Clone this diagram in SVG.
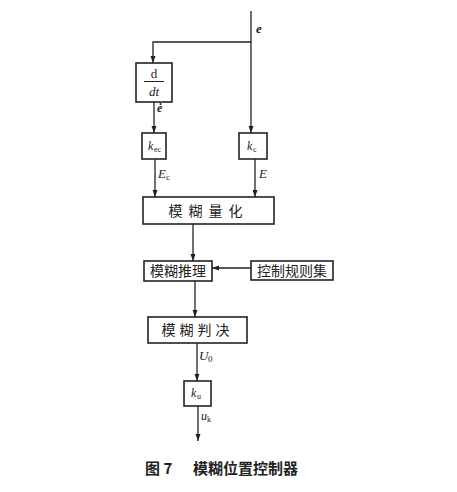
<svg xmlns="http://www.w3.org/2000/svg" width="457" height="492" viewBox="0 0 457 492">
<defs>
<marker id="ah" markerWidth="8" markerHeight="8" refX="7" refY="4" orient="auto" markerUnits="userSpaceOnUse">
<path d="M0,1.5 L7,4 L0,6.5 Z" fill="#222"/>
</marker>
</defs>
<style>
.box{fill:#fff;stroke:#222;stroke-width:1.6}
.ln{fill:none;stroke:#222;stroke-width:1.3}
.cn{font-family:"Noto Sans CJK SC","Noto Sans CJK JP",sans-serif;fill:#222}
.it{font-family:"Liberation Serif",serif;font-style:italic;fill:#222}
.rm{font-family:"Liberation Serif",serif;fill:#222}
</style>
<rect width="457" height="492" fill="#fff"/>
<g id="connectors">
<path class="ln" d="M251,11 V133" marker-end="url(#ah)"/>
<path class="ln" d="M251,42 H153 V63" marker-end="url(#ah)"/>
<path class="ln" d="M154,102 V133" marker-end="url(#ah)"/>
<path class="ln" d="M155,159 V197" marker-end="url(#ah)"/>
<path class="ln" d="M255,159 V197" marker-end="url(#ah)"/>
<path class="ln" d="M193,224 V261" marker-end="url(#ah)"/>
<path class="ln" d="M251,268 H212" marker-end="url(#ah)"/>
<path class="ln" d="M195,281 V317" marker-end="url(#ah)"/>
<path class="ln" d="M197,343 V381" marker-end="url(#ah)"/>
<path class="ln" d="M198,406 V441" marker-end="url(#ah)"/>
</g>
<g id="labels">
<text class="it" x="256" y="33" font-size="13" font-weight="bold">e</text>
<text class="it" x="157" y="112" font-size="12" font-weight="bold">ė</text>
<text class="it" x="158" y="178" font-size="13">E</text>
<text class="rm" x="166" y="180" font-size="9">c</text>
<text class="it" x="259" y="178" font-size="13">E</text>
<text class="it" x="199" y="360" font-size="13">U</text>
<text class="rm" x="208" y="362" font-size="9">0</text>
<text class="it" x="201" y="420" font-size="12">u</text>
<text class="rm" x="207" y="422" font-size="8">k</text>
</g>
<g id="ddt">
<rect class="box" x="136" y="63" width="36" height="39"/>
<text class="rm" x="154" y="78" font-size="13" text-anchor="middle">d</text>
<line x1="144" y1="81.5" x2="164" y2="81.5" stroke="#222" stroke-width="1"/>
<text class="it" x="154" y="96" font-size="13" text-anchor="middle">dt</text>
</g>
<g id="kec">
<rect class="box" x="142" y="133" width="24" height="26"/>
<text class="it" x="148" y="150" font-size="12">k</text>
<text class="rm" x="154" y="152" font-size="8">ec</text>
</g>
<g id="kc">
<rect class="box" x="239" y="133" width="28" height="26"/>
<text class="it" x="247" y="150" font-size="12">k</text>
<text class="rm" x="253" y="152" font-size="8">c</text>
</g>
<g id="quant">
<rect class="box" x="143" y="197" width="131" height="27"/>
<text class="cn" x="208.5" y="216" font-size="14" text-anchor="middle" letter-spacing="6">模糊量化</text>
</g>
<g id="infer">
<rect class="box" x="144" y="261" width="68" height="20"/>
<text class="cn" x="178" y="276" font-size="14" text-anchor="middle">模糊推理</text>
</g>
<g id="rules">
<rect class="box" x="251" y="261" width="82" height="19"/>
<text class="cn" x="292" y="275.5" font-size="14" text-anchor="middle">控制规则集</text>
</g>
<g id="decide">
<rect class="box" x="148" y="317" width="99" height="26"/>
<text class="cn" x="197.5" y="335" font-size="14" text-anchor="middle" letter-spacing="4">模糊判决</text>
</g>
<g id="ku">
<rect class="box" x="184" y="381" width="27" height="25"/>
<text class="it" x="191" y="397" font-size="12">k</text>
<text class="rm" x="197" y="399" font-size="8">u</text>
</g>
<g id="caption">
<text class="cn" x="145" y="474" font-size="15" font-weight="bold">图 7</text>
<text class="cn" x="193" y="474" font-size="15" font-weight="bold">模糊位置控制器</text>
</g>
</svg>
